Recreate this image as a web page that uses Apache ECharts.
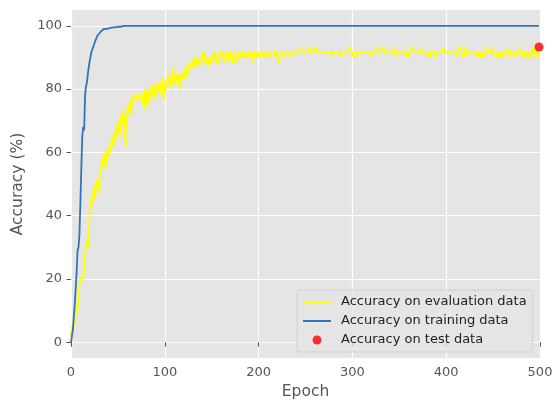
<!DOCTYPE html>
<html>
<head>
<meta charset="utf-8">
<script src="https://cdn.jsdelivr.net/npm/echarts@6/dist/echarts.min.js"></script>
<style>
  html, body { margin: 0; padding: 0; background: #ffffff; }
  #chart { width: 556px; height: 403px; }
</style>
</head>
<body>
<div id="chart"></div>
<script>
// Accuracy (%) on the evaluation set, one value per epoch (0..499)
const evalAccuracy = [
  1.7, 5, 3.3, 6.7, 5, 8.3, 11.7, 10, 13.3, 18.3,
  20, 19, 21.7, 20, 23.3, 28.3, 30, 31.7, 30, 33.3,
  41.7, 45, 43.3, 46.7, 48.3, 45, 50, 48.3, 51.7, 50,
  46.7, 53.3, 55, 58.3, 55, 56.7, 60, 58.3, 55, 61.7,
  58.3, 61.7, 60, 63.3, 65, 61.7, 66.7, 63.3, 65, 68.3,
  66.7, 70, 65, 71.7, 68.3, 73.3, 70, 71.7, 61.7, 73.3,
  71.7, 75, 73.3, 76.7, 71.7, 75, 76.7, 78.3, 76.7, 76.7,
  78.3, 76.7, 76.7, 76.7, 78.3, 76.7, 75, 78.3, 80, 73.3,
  76.7, 80, 75, 78.3, 80, 76.7, 81.7, 78.3, 80, 76.7,
  81.7, 78.3, 80, 81.7, 80, 78.3, 81.7, 83.3, 80, 76.7,
  81.7, 80, 83.3, 81.7, 85, 81.7, 83.3, 80, 86.7, 83.3,
  81.7, 85, 83.3, 81.7, 85, 83.3, 80, 85, 83.3, 85,
  83.3, 86.7, 85, 83.3, 86.7, 85, 88.3, 86.7, 88.3, 86.7,
  88.3, 90, 86.7, 88.3, 90, 88.3, 86.7, 90, 88.3, 90,
  91.7, 90, 91.7, 88.3, 90, 88.3, 86.7, 90, 88.3, 88.3,
  90, 88.3, 91.7, 90, 91.7, 91.7, 88.3, 90, 88.3, 91.7,
  90, 91.7, 91.7, 90, 88.3, 91.7, 91.7, 90, 91.7, 88.3,
  91.7, 91.7, 90, 88.3, 91.7, 91.7, 90, 88.3, 91.7, 91.7,
  91.7, 90, 91.7, 90, 91.7, 91.7, 90, 91.7, 90, 91.7,
  91.7, 91.7, 90, 91.7, 88.3, 91.7, 90, 91.7, 91.7, 90,
  91.7, 91.7, 91.7, 90, 91.7, 90, 91.7, 91.7, 91.7, 91.7,
  90, 91.7, 91.7, 90, 91.7, 91.7, 91.7, 91.7, 90, 91.7,
  91.7, 91.7, 88.3, 91.7, 91.7, 91.7, 91.7, 91.7, 90, 91.7,
  91.7, 91.7, 91.7, 91.7, 91.7, 90, 91.7, 91.7, 91.7, 91.7,
  91.7, 91.7, 91.7, 91.7, 91.7, 93.3, 91.7, 91.7, 91.7, 91.7,
  91.7, 91.7, 91.7, 91.7, 93.3, 91.7, 91.7, 91.7, 91.7, 91.7,
  91.7, 93.3, 91.7, 91.7, 91.7, 91.7, 91.7, 91.7, 91.7, 91.7,
  91.7, 91.7, 91.7, 91.7, 91.7, 91.7, 91.7, 91.7, 91.7, 90,
  91.7, 91.7, 91.7, 91.7, 91.7, 91.7, 91.7, 91.7, 90, 91.7,
  91.7, 91.7, 91.7, 91.7, 91.7, 91.7, 91.7, 91.7, 93.3, 91.7,
  90, 91.7, 91.7, 91.7, 91.7, 90, 91.7, 91.7, 91.7, 91.7,
  91.7, 91.7, 91.7, 91.7, 91.7, 91.7, 91.7, 91.7, 91.7, 91.7,
  90, 91.7, 91.7, 91.7, 91.7, 91.7, 93.3, 91.7, 91.7, 91.7,
  91.7, 91.7, 91.7, 93.3, 91.7, 91.7, 91.7, 91.7, 91.7, 91.7,
  91.7, 91.7, 91.7, 91.7, 91.7, 93.3, 91.7, 90, 91.7, 91.7,
  91.7, 91.7, 91.7, 91.7, 91.7, 91.7, 91.7, 91.7, 90, 91.7,
  90, 91.7, 91.7, 91.7, 93.3, 91.7, 91.7, 91.7, 91.7, 91.7,
  91.7, 91.7, 91.7, 93.3, 91.7, 91.7, 91.7, 91.7, 91.7, 91.7,
  91.7, 90, 91.7, 90, 91.7, 91.7, 91.7, 91.7, 90, 91.7,
  91.7, 91.7, 91.7, 91.7, 91.7, 91.7, 91.7, 93.3, 91.7, 91.7,
  91.7, 91.7, 91.7, 91.7, 91.7, 91.7, 91.7, 91.7, 91.7, 91.7,
  91.7, 90, 91.7, 91.7, 91.7, 93.3, 91.7, 91.7, 90, 91.7,
  93.3, 91.7, 90, 91.7, 91.7, 91.7, 91.7, 91.7, 91.7, 91.7,
  91.7, 91.7, 91.7, 90, 91.7, 91.7, 90, 91.7, 91.7, 90,
  91.7, 90, 91.7, 93.3, 91.7, 91.7, 91.7, 91.7, 91.7, 93.3,
  91.7, 91.7, 91.7, 90, 91.7, 91.7, 90, 91.7, 91.7, 90,
  91.7, 90, 91.7, 91.7, 91.7, 91.7, 93.3, 91.7, 90, 91.7,
  91.7, 91.7, 91.7, 91.7, 90, 91.7, 91.7, 91.7, 91.7, 93.3,
  91.7, 90, 91.7, 91.7, 90, 91.7, 91.7, 90, 91.7, 91.7,
  90, 91.7, 93.3, 91.7, 93.3, 90, 91.7, 90, 91.7, 91.7
];

// Accuracy (%) on the training set, one value per epoch (0..499)
const trainAccuracy = [
  0, 2, 4, 8, 12, 17, 22, 29, 30, 34,
  44, 55, 65, 68, 67, 78, 81, 82, 85, 87,
  89, 90.5, 92, 92.5, 93.5, 94.5, 95.3, 96, 96.8, 97.3,
  97.5, 98, 98.3, 98, 98.7, 99, 98.7, 99.2, 99, 99.5,
  99.2, 99.3, 99.7, 99.2, 99.5, 99.7, 99.8, 99.5, 99.8, 100,
  99.7, 99.8, 100, 99.7, 100, 99.8, 100, 100, 99.8, 100,
  100, 100, 100, 100, 100, 100, 100, 100, 100, 100, 100, 100, 100, 100, 100, 100, 100, 100, 100, 100,
  100, 100, 100, 100, 100, 100, 100, 100, 100, 100, 100, 100, 100, 100, 100, 100, 100, 100, 100, 100,
  100, 100, 100, 100, 100, 100, 100, 100, 100, 100, 100, 100, 100, 100, 100, 100, 100, 100, 100, 100,
  100, 100, 100, 100, 100, 100, 100, 100, 100, 100, 100, 100, 100, 100, 100, 100, 100, 100, 100, 100,
  100, 100, 100, 100, 100, 100, 100, 100, 100, 100, 100, 100, 100, 100, 100, 100, 100, 100, 100, 100,
  100, 100, 100, 100, 100, 100, 100, 100, 100, 100, 100, 100, 100, 100, 100, 100, 100, 100, 100, 100,
  100, 100, 100, 100, 100, 100, 100, 100, 100, 100, 100, 100, 100, 100, 100, 100, 100, 100, 100, 100,
  100, 100, 100, 100, 100, 100, 100, 100, 100, 100, 100, 100, 100, 100, 100, 100, 100, 100, 100, 100,
  100, 100, 100, 100, 100, 100, 100, 100, 100, 100, 100, 100, 100, 100, 100, 100, 100, 100, 100, 100,
  100, 100, 100, 100, 100, 100, 100, 100, 100, 100, 100, 100, 100, 100, 100, 100, 100, 100, 100, 100,
  100, 100, 100, 100, 100, 100, 100, 100, 100, 100, 100, 100, 100, 100, 100, 100, 100, 100, 100, 100,
  100, 100, 100, 100, 100, 100, 100, 100, 100, 100, 100, 100, 100, 100, 100, 100, 100, 100, 100, 100,
  100, 100, 100, 100, 100, 100, 100, 100, 100, 100, 100, 100, 100, 100, 100, 100, 100, 100, 100, 100,
  100, 100, 100, 100, 100, 100, 100, 100, 100, 100, 100, 100, 100, 100, 100, 100, 100, 100, 100, 100,
  100, 100, 100, 100, 100, 100, 100, 100, 100, 100, 100, 100, 100, 100, 100, 100, 100, 100, 100, 100,
  100, 100, 100, 100, 100, 100, 100, 100, 100, 100, 100, 100, 100, 100, 100, 100, 100, 100, 100, 100,
  100, 100, 100, 100, 100, 100, 100, 100, 100, 100, 100, 100, 100, 100, 100, 100, 100, 100, 100, 100,
  100, 100, 100, 100, 100, 100, 100, 100, 100, 100, 100, 100, 100, 100, 100, 100, 100, 100, 100, 100,
  100, 100, 100, 100, 100, 100, 100, 100, 100, 100, 100, 100, 100, 100, 100, 100, 100, 100, 100, 100,
  100, 100, 100, 100, 100, 100, 100, 100, 100, 100, 100, 100, 100, 100, 100, 100, 100, 100, 100, 100,
  100, 100, 100, 100, 100, 100, 100, 100, 100, 100, 100, 100, 100, 100, 100, 100, 100, 100, 100, 100,
  100, 100, 100, 100, 100, 100, 100, 100, 100, 100, 100, 100, 100, 100, 100, 100, 100, 100, 100, 100
];

// Final accuracy on the held-out test set
const testEpoch = 499;
const testAccuracy = 93.3;

// Axis tick values
const xTicks = [0, 100, 200, 300, 400, 500];
const yTicks = [0, 20, 40, 60, 80, 100];

const seriesNames = [
  'Accuracy on evaluation data',
  'Accuracy on training data',
  'Accuracy on test data'
];

const FONT = 'DejaVu Sans';
const EVAL_COLOR = '#FFFF00';
const TRAIN_COLOR = '#3274B5';
const TEST_COLOR = '#FF0000';
const toPairs = arr => arr.map((v, i) => [i, v]);

const chart = echarts.init(document.getElementById('chart'), null, { renderer: 'canvas' });

chart.setOption({
  animation: false,
  backgroundColor: '#ffffff',
  grid: {
    left: 71, right: 16, top: 10, bottom: 45,
    show: true,
    backgroundColor: '#E5E5E5',
    borderWidth: 0,
    outerBoundsMode: 'none'
  },
  legend: {
    orient: 'vertical',
    left: 297,
    top: 290,
    // line entries show only the stroke, no marker
    data: [
      { name: seriesNames[0], itemStyle: { opacity: 0 }, lineStyle: { color: EVAL_COLOR, width: 2 } },
      { name: seriesNames[1], itemStyle: { opacity: 0 }, lineStyle: { color: TRAIN_COLOR, width: 2 } },
      { name: seriesNames[2] }
    ],
    itemWidth: 28,
    itemHeight: 9,
    itemGap: 5,
    padding: [5, 6, 5, 5],
    backgroundColor: 'rgba(229,229,229,0.8)',
    borderColor: 'rgba(204,204,204,0.8)',
    borderWidth: 1,
    borderRadius: 3,
    textStyle: {
      fontFamily: FONT,
      fontSize: 13,
      color: '#222222',
      lineHeight: 14,
      padding: [0, 0, 0, 5]
    },
    selectedMode: false
  },
  xAxis: {
    type: 'value',
    min: 0,
    max: 500,
    interval: 100,
    name: 'Epoch',
    nameLocation: 'middle',
    nameGap: 24,
    nameTextStyle: { fontFamily: FONT, fontSize: 15.5, color: '#555555' },
    axisLine: { show: false },
    axisTick: { show: true, length: 4.5, lineStyle: { color: '#555555', width: 1 } },
    axisLabel: {
      fontFamily: FONT, fontSize: 13, color: '#555555', margin: 8,
      customValues: xTicks
    },
    splitLine: { show: true, lineStyle: { color: '#ffffff', width: 1.2 } }
  },
  yAxis: {
    type: 'value',
    min: -5,
    max: 105,
    name: 'Accuracy (%)',
    nameLocation: 'middle',
    nameGap: 41,
    nameTextStyle: { fontFamily: FONT, fontSize: 15.5, color: '#555555' },
    axisLine: { show: false },
    axisTick: { show: true, length: 4.5, lineStyle: { color: '#555555', width: 1 }, customValues: yTicks },
    axisLabel: {
      fontFamily: FONT, fontSize: 13, color: '#555555', margin: 9,
      customValues: yTicks
    },
    splitLine: { show: true, lineStyle: { color: '#ffffff', width: 1.2 } }
  },
  series: [
    {
      name: seriesNames[0],
      type: 'line',
      data: toPairs(evalAccuracy),
      symbol: 'none',
      lineStyle: { color: EVAL_COLOR, width: 1.8 },
      itemStyle: { color: EVAL_COLOR },
      z: 2
    },
    {
      name: seriesNames[1],
      type: 'line',
      data: toPairs(trainAccuracy),
      symbol: 'none',
      lineStyle: { color: TRAIN_COLOR, width: 1.8 },
      itemStyle: { color: TRAIN_COLOR },
      z: 3
    },
    {
      name: seriesNames[2],
      type: 'scatter',
      data: [[testEpoch, testAccuracy]],
      symbol: 'circle',
      symbolSize: 9,
      itemStyle: { color: TEST_COLOR },
      z: 4
    }
  ]
});
</script>
</body>
</html>
